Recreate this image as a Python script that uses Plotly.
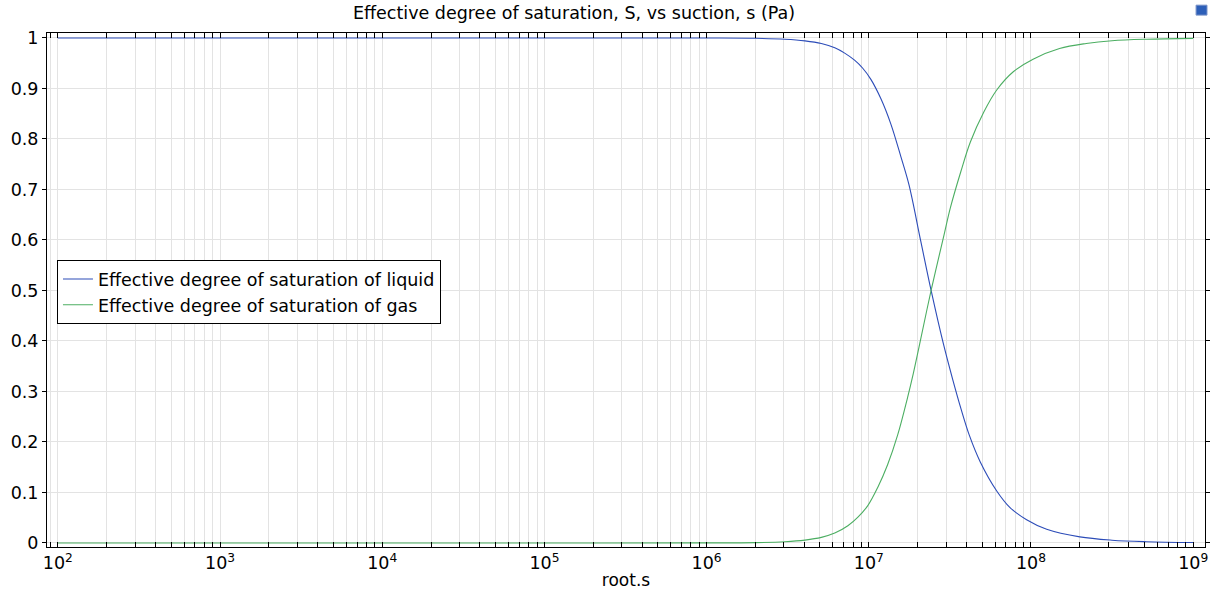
import plotly.graph_objects as go

# ---- data ----
suction_liquid = [1e2, 1e3, 1e4, 1e5, 1e6, 2e6, 3.04e6, 4.04e6, 5.1e6, 6.17e6, 7.1e6, 8.17e6,
                  9.18e6, 1.03e7, 1.19e7, 1.37e7, 1.58e7, 1.77e7, 2.09e7, 2.43e7, 2.88e7,
                  3.29e7, 3.70e7, 4.16e7, 4.86e7, 6.15e7, 7.43e7, 9.40e7, 1.25e8, 2.0e8,
                  3.16e8, 5.13e8, 1e9]
S_liquid = [1.0, 1.0, 1.0, 1.0, 0.9999, 0.9993, 0.9975, 0.9943, 0.989, 0.9805, 0.970, 0.956,
            0.940, 0.918, 0.879, 0.829, 0.764, 0.709, 0.598, 0.498, 0.395,
            0.324, 0.266, 0.214, 0.161, 0.103, 0.070, 0.046, 0.027, 0.012,
            0.0055, 0.0025, 0.0008]

suction_gas = [1e2, 1e3, 1e4, 1e5, 1e6, 2e6, 3.04e6, 4.04e6, 5.1e6, 6.17e6, 7.43e6, 8.57e6,
               9.86e6, 1.135e7, 1.306e7, 1.507e7, 1.734e7, 1.879e7, 2.04e7, 2.43e7, 2.93e7,
               3.18e7, 3.70e7, 4.23e7, 5.11e7, 6.15e7, 7.78e7, 1.03e8, 1.50e8, 2.19e8,
               3.16e8, 5.13e8, 1e9]
S_gas = [0.0, 0.0, 0.0, 0.0, 0.0001, 0.0007, 0.0025, 0.0057, 0.011, 0.0195, 0.034, 0.051,
         0.074, 0.110, 0.155, 0.214, 0.288, 0.335, 0.388, 0.502, 0.614,
         0.663, 0.736, 0.794, 0.853, 0.897, 0.933, 0.958, 0.979, 0.989,
         0.9945, 0.9975, 0.9992]

series_names = ["Effective degree of saturation of liquid", "Effective degree of saturation of gas"]
title_text = "Effective degree of saturation, S, vs suction, s (Pa)"
x_title = "root.s"
major_exponents = [2, 3, 4, 5, 6, 7, 8, 9]
y_ticks = [0, 0.1, 0.2, 0.3, 0.4, 0.5, 0.6, 0.7, 0.8, 0.9, 1]

# ---- figure ----
FONT = "DejaVu Sans"
blue = "#2c4cb8"
green = "#4cae62"
grid = "#e3e3e3"

major_vals = [10 ** e for e in major_exponents]
major_text = ["10<sup>%d</sup>" % e for e in major_exponents]
minor_vals = [m * 10 ** e for e in range(1, 10) for m in range(2, 10)]

fig = go.Figure()
fig.add_trace(go.Scatter(x=suction_liquid, y=S_liquid, mode="lines", name=series_names[0],
                         line=dict(color=blue, width=1.1, shape="spline", smoothing=1.0)))
fig.add_trace(go.Scatter(x=suction_gas, y=S_gas, mode="lines", name=series_names[1],
                         line=dict(color=green, width=1.1, shape="spline", smoothing=1.0)))

fig.update_layout(
    width=1221, height=598,
    margin=dict(l=43, r=11, t=33, b=48),
    paper_bgcolor="white", plot_bgcolor="white",
    font=dict(family=FONT, color="black", size=17.5),
    title=dict(text=title_text, x=574 / 1221, xref="container", xanchor="center",
               y=1 - 13 / 598, yref="container", yanchor="middle",
               font=dict(family=FONT, size=17.5, color="black")),
    showlegend=True,
    legend=dict(x=0.0086, xanchor="left", y=0.558, yanchor="top",
                bgcolor="white", bordercolor="black", borderwidth=1,
                font=dict(family=FONT, size=17.5, color="black"),
                tracegroupgap=0, itemwidth=30),
    xaxis=dict(
        type="log", range=[1.933, 9.073],
        tickvals=major_vals, ticktext=major_text,
        ticks="inside", ticklen=5, tickcolor="black",
        showline=True, linecolor="black", linewidth=1, mirror="allticks",
        showgrid=True, gridcolor=grid, gridwidth=1, zeroline=False,
        tickfont=dict(family=FONT, size=17.5, color="black"),
        minor=dict(tickvals=minor_vals, ticks="inside", ticklen=5, tickcolor="black",
                   showgrid=True, gridcolor=grid, gridwidth=1),
        title=dict(text=x_title, font=dict(family=FONT, size=17, color="black"), standoff=2),
    ),
    yaxis=dict(
        range=[-0.008, 1.0098],
        tickvals=y_ticks,
        ticks="outside", ticklen=4, tickcolor="black",
        showline=True, linecolor="black", linewidth=1, mirror="allticks",
        showgrid=True, gridcolor=grid, gridwidth=1, zeroline=False,
        tickfont=dict(family=FONT, size=17.5, color="black"),
    ),
    shapes=[
        dict(type="rect", xref="paper", yref="paper",
             x0=(1201 - 43) / 1167, x1=(1212 - 43) / 1167,
             y0=(550 - 15) / 517, y1=(550 - 5) / 517,
             line=dict(color="#7a93c8", width=1), fillcolor="#2d5fb8"),
    ],
)

fig.write_html("out.html")
